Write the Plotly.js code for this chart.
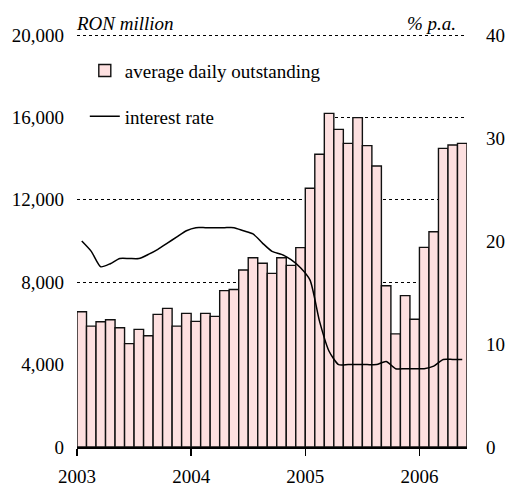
<!DOCTYPE html>
<html>
<head>
<meta charset="utf-8">
<script src="https://cdn.plot.ly/plotly-3.0.1.min.js"></script>
<style>html,body{margin:0;padding:0;background:#fff;}#chart{width:512px;height:490px;}</style>
</head>
<body>
<div id="chart"></div>
<script>
// Months Jan 2003 .. May 2006
const months = [
  '2003-01','2003-02','2003-03','2003-04','2003-05','2003-06','2003-07','2003-08','2003-09','2003-10','2003-11','2003-12',
  '2004-01','2004-02','2004-03','2004-04','2004-05','2004-06','2004-07','2004-08','2004-09','2004-10','2004-11','2004-12',
  '2005-01','2005-02','2005-03','2005-04','2005-05','2005-06','2005-07','2005-08','2005-09','2005-10','2005-11','2005-12',
  '2006-01','2006-02','2006-03','2006-04','2006-05'
];
// average daily outstanding, RON million
const outstanding = [
  6570, 5870, 6080, 6180, 5790, 5020, 5710, 5400, 6440, 6730, 5870, 6490,
  6100, 6490, 6340, 7590, 7650, 8590, 9190, 8920, 8430, 9190, 8820, 9680,
  12560, 14210, 16200, 15420, 14740, 15990, 14630, 13640, 7830, 5490, 7350, 6200,
  9690, 10450, 14500, 14660, 14740
];
// interest rate, % p.a.
const rate = [
  20.0, 19.0, 17.5, 17.8, 18.3, 18.3, 18.3, 18.7, 19.2, 19.8, 20.4, 21.0,
  21.3, 21.3, 21.3, 21.3, 21.3, 21.0, 20.7, 19.8, 19.0, 18.7, 18.2, 17.4,
  16.2, 12.2, 9.3, 8.0, 8.0, 8.0, 8.0, 8.0, 8.3, 7.6, 7.6, 7.6,
  7.6, 7.85, 8.5, 8.5, 8.5
];
const yearLabels = ['2003', '2004', '2005', '2006'];
const yearStartMonths = ['2003-01', '2004-01', '2005-01', '2006-01'];

const xpos = months.map((m, i) => i);
const tickPos = yearStartMonths.map(m => months.indexOf(m) - 0.5);

const serif = '"Liberation Serif", "Times New Roman", Times, serif';
const FS = 19;

const traces = [
  {
    type: 'bar', name: 'average daily outstanding',
    x: xpos, y: outstanding, yaxis: 'y',
    marker: { color: '#fde0e0', line: { color: '#111', width: 1.4 } },
    legendgroup: 'a', hoverinfo: 'skip'
  },
  {
    type: 'scatter', mode: 'lines', name: 'interest rate',
    x: xpos, y: rate, yaxis: 'y2',
    line: { color: '#000', width: 1.5, shape: 'spline', smoothing: 0.6 },
    legendgroup: 'b', hoverinfo: 'skip'
  }
];

const layout = {
  width: 512, height: 490,
  margin: { l: 77, r: 45, t: 33, b: 43 },
  paper_bgcolor: '#fff', plot_bgcolor: '#fff',
  font: { family: serif, size: FS, color: '#000' },
  bargap: 0,
  showlegend: true,
  legend: {
    x: 0.02, xanchor: 'left', y: 0.955, yanchor: 'top',
    bgcolor: 'rgba(255,255,255,0)', borderwidth: 0,
    font: { family: serif, size: FS, color: '#000' },
    traceorder: 'grouped', tracegroupgap: 18
  },
  xaxis: {
    range: [-0.5, months.length - 0.5],
    tickmode: 'array', tickvals: tickPos, ticktext: yearLabels,
    showline: true, linecolor: '#000', linewidth: 1.5,
    ticks: 'outside', ticklen: 7, tickwidth: 1.5, tickcolor: '#000',
    ticklabelstandoff: 5,
    showgrid: false, zeroline: false,
    tickfont: { family: serif, size: FS, color: '#000' },
    fixedrange: true
  },
  yaxis: {
    range: [0, 20100], tickmode: 'linear', tick0: 0, dtick: 4000,
    tickformat: ',d',
    showgrid: true, gridcolor: '#000', griddash: 'dot', gridwidth: 1,
    showline: false, zeroline: false, ticks: '',
    ticklabelstandoff: 12,
    tickfont: { family: serif, size: FS, color: '#000' },
    fixedrange: true
  },
  yaxis2: {
    overlaying: 'y', side: 'right',
    range: [0, 40.2], tickmode: 'linear', tick0: 0, dtick: 10,
    showgrid: false, showline: false, zeroline: false, ticks: '',
    ticklabelstandoff: 18,
    tickfont: { family: serif, size: FS, color: '#000' },
    fixedrange: true
  },
  shapes: [
    { type: 'rect', layer: 'between', xref: 'x', yref: 'y',
      x0: -0.5, x1: 25.5, y0: 15000, y1: 17000,
      fillcolor: '#fff', line: { width: 0 } }
  ],
  annotations: [
    { text: 'RON million', xref: 'paper', yref: 'paper', x: 0, y: 1, xanchor: 'left', yanchor: 'bottom',
      xshift: -3, yshift: -3, showarrow: false, font: { family: serif, size: FS, color: '#000', style: 'italic' } },
    { text: '% p.a.', xref: 'paper', yref: 'paper', x: 1, y: 1, xanchor: 'right', yanchor: 'bottom',
      xshift: -9, yshift: -3, showarrow: false, font: { family: serif, size: FS, color: '#000', style: 'italic' } }
  ]
};

Plotly.newPlot('chart', traces, layout, { staticPlot: true, displayModeBar: false });
</script>
</body>
</html>
